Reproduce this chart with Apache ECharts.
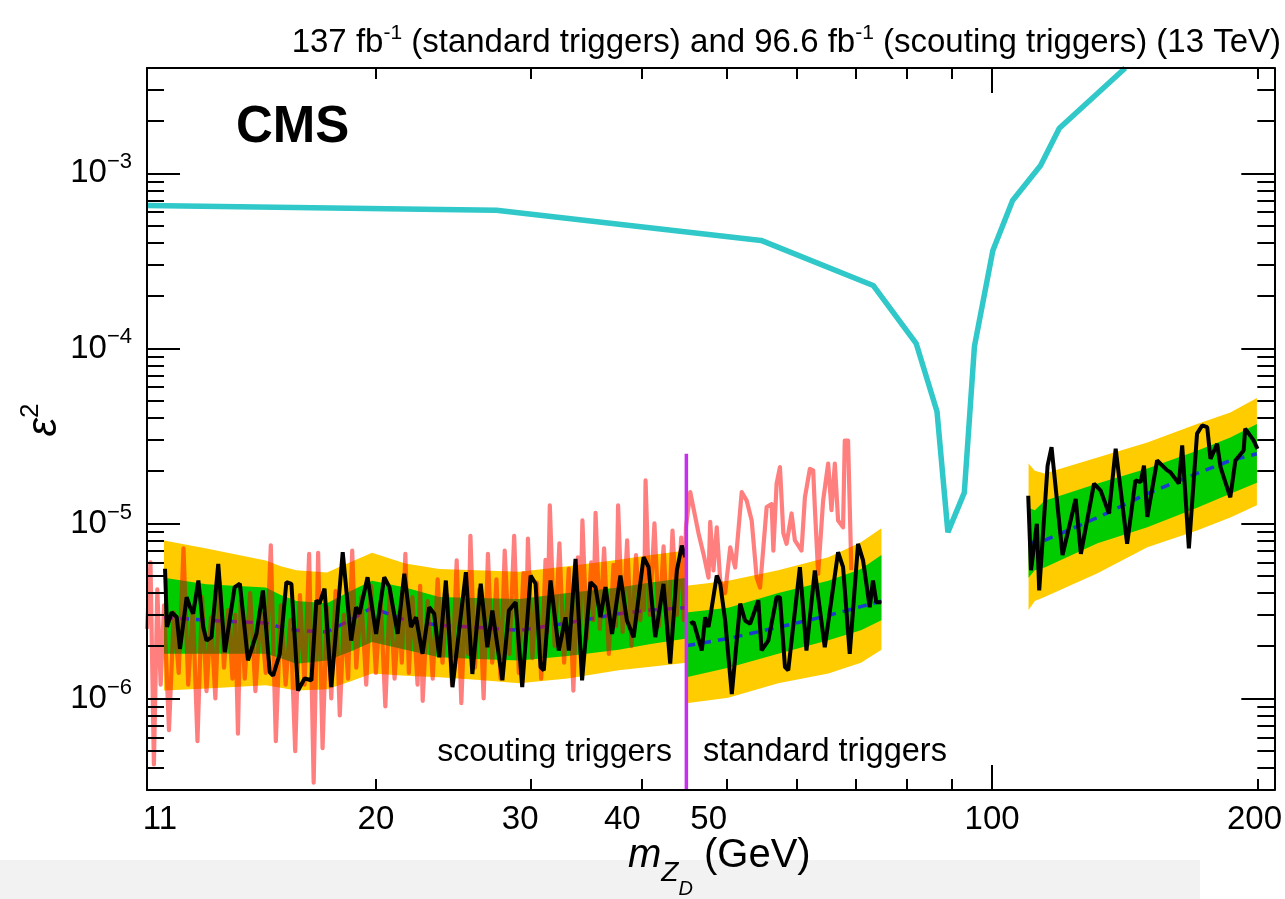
<!DOCTYPE html>
<html><head><meta charset="utf-8">
<script src="https://cdn.jsdelivr.net/npm/echarts@6/dist/echarts.min.js"></script>
<style>html,body{margin:0;padding:0;background:#fff}#chart{width:1285px;height:899px}</style>
</head><body><div id="chart"></div>
<script>
// ---------------- data ----------------
// eps^2 values of bands / observed lines are given in units of 1e-6
const UNIT = 1e-6;

// axes
const xMin = 11, xMax = 209;
const yMin = 3e-7, yMax = 4e-3;
const xTickLabels = [11, 20, 30, 40, 50, 100, 200];
const xMajorTicks = [100];
const xMinorTicks = [20, 30, 40, 50, 60, 70, 80, 90, 200];
const yMajorTicks = [1e-6, 1e-5, 1e-4, 1e-3];
const yMinorTicks = [4e-7, 5e-7, 6e-7, 7e-7, 8e-7, 9e-7,
  2e-6, 3e-6, 4e-6, 5e-6, 6e-6, 7e-6, 8e-6, 9e-6,
  2e-5, 3e-5, 4e-5, 5e-5, 6e-5, 7e-5, 8e-5, 9e-5,
  2e-4, 3e-4, 4e-4, 5e-4, 6e-4, 7e-4, 8e-4, 9e-4,
  2e-3, 3e-3];

// previous limits (cyan)
const prevMass = [11, 27.4, 54.7, 73.3, 82.0, 86.6, 89.1, 93.0, 95.5, 100.2, 105.5, 113.5, 119.2, 141.6];
const prevEps2 = [6.56e-4, 6.15e-4, 4.14e-4, 2.29e-4, 1.07e-4, 4.36e-5, 8.9e-6, 1.5e-5, 1.03e-4, 3.63e-4, 7.0e-4, 1.11e-3, 1.81e-3, 4.0e-3];

// scouting / standard boundary (magenta)
const boundaryMass = [45, 45];
const boundaryEps2 = [3e-7, 2.5e-5];

// scouting-trigger expected bands (11.5 - 45 GeV)
const scoutMass = [11.5, 12.85, 15.0, 15.6, 16.25, 17.6, 18.7, 19.8, 21.6, 23.6, 26.0, 29.1, 33.0, 37.7, 41.0, 45.0];
const scoutLo2  = [1.11, 1.14, 1.19, 1.15, 1.11, 1.13, 1.25, 1.39, 1.35, 1.32, 1.28, 1.22, 1.30, 1.45, 1.52, 1.60];
const scoutLo1  = [1.80, 1.80, 1.80, 1.70, 1.58, 1.65, 1.85, 2.10, 1.90, 1.72, 1.68, 1.65, 1.75, 1.90, 2.05, 2.20];
const scoutMed  = [2.90, 2.80, 2.70, 2.55, 2.45, 2.40, 2.80, 3.30, 2.80, 2.62, 2.55, 2.45, 2.70, 3.05, 3.20, 3.30];
const scoutHi1  = [4.9, 4.5, 4.3, 3.9, 3.6, 3.5, 4.1, 4.7, 4.3, 3.8, 3.75, 3.7, 4.0, 4.3, 4.6, 4.9];
const scoutHi2  = [8.0, 7.2, 6.15, 5.7, 5.4, 5.25, 6.0, 6.8, 5.9, 5.5, 5.4, 5.3, 5.7, 6.2, 6.6, 7.0];

// standard-trigger expected bands, low mass (45 - 75 GeV)
const stdLowMass = [45.0, 50.2, 57.2, 65.2, 71.0, 74.9];
const stdLowLo2  = [0.94, 1.01, 1.22, 1.39, 1.60, 1.90];
const stdLowLo1  = [1.32, 1.50, 1.80, 2.15, 2.45, 2.80];
const stdLowMed  = [2.00, 2.20, 2.55, 2.98, 3.35, 3.60];
const stdLowHi1  = [3.1, 3.3, 4.0, 4.7, 5.5, 6.6];
const stdLowHi2  = [4.4, 4.7, 5.4, 6.4, 7.8, 9.4];

// standard-trigger expected bands, high mass (110 - 200 GeV)
const stdHighMass = [110.0, 111.8, 114.7, 131.7, 150.0, 170.8, 186.3, 199.7];
const stdHighLo2  = [3.2, 3.6, 3.8, 5.2, 7.3, 9.1, 10.8, 12.7];
const stdHighLo1  = [4.9, 5.4, 5.6, 7.7, 9.5, 12.3, 14.8, 17.1];
const stdHighMed  = [7.7, 7.8, 8.0, 10.8, 14.8, 19.3, 22.9, 25.0];
const stdHighHi1  = [12.3, 11.9, 13.5, 16.9, 20.6, 26.0, 31.0, 37.0];
const stdHighHi2  = [22.0, 20.0, 19.3, 23.8, 29.0, 37.0, 43.0, 52.0];

// observed limit, scouting triggers [mass, eps2/1e-6]
const scoutObs = [[11.53,5.51],[11.59,2.56],[11.73,3.11],[11.89,2.91],[11.99,1.92],[12.20,3.79],[12.31,3.32],[12.41,3.05],[12.58,4.72],[12.74,2.56],[12.85,2.14],[13.02,2.24],[13.25,5.88],[13.48,1.84],[13.83,4.33],[14.02,4.52],[14.32,1.65],[14.64,2.34],[14.89,4.14],[15.16,1.41],[15.29,1.35],[15.56,1.80],[15.83,4.62],[16.04,4.52],[16.32,1.11],[16.60,1.30],[16.90,1.27],[17.12,3.63],[17.26,3.48],[17.49,4.24],[17.80,1.16],[18.34,6.85],[18.75,2.14],[18.99,3.32],[19.16,3.05],[19.57,4.93],[20.01,2.34],[20.44,4.93],[20.72,4.33],[21.17,2.34],[21.54,5.16],[21.92,2.56],[22.21,2.91],[22.59,1.80],[22.99,3.32],[23.29,3.05],[23.60,1.72],[24.01,4.72],[24.43,1.16],[25.30,5.27],[25.73,1.38],[26.30,4.52],[26.76,1.96],[27.11,3.18],[27.83,1.27],[28.31,3.18],[28.81,3.55],[29.31,1.16],[29.96,5.04],[30.35,4.52],[30.75,1.51],[31.01,1.45],[31.56,4.72],[32.25,1.88],[32.82,2.91],[33.11,1.88],[33.69,6.28],[34.27,1.27],[35.03,4.62],[35.49,4.33],[35.96,2.91],[36.43,4.33],[37.06,2.34],[37.88,5.04],[38.53,2.79],[39.21,2.24],[40.24,6.42],[40.77,5.63],[41.49,2.24],[42.39,4.52],[43.14,1.58],[43.90,5.39],[44.47,7.48],[44.87,6.42]];

// observed limit, standard triggers, low mass
const stdLowObs = [[45.46,2.67],[45.85,2.73],[46.85,1.88],[47.27,2.91],[47.68,2.56],[47.89,2.91],[48.72,5.04],[49.16,4.52],[49.80,2.79],[50.67,1.06],[51.79,3.48],[52.46,2.79],[53.15,2.67],[54.31,3.63],[54.77,1.88],[55.74,2.14],[56.96,3.79],[57.46,3.79],[58.22,1.51],[58.72,1.45],[60.53,5.63],[61.58,1.88],[62.94,5.39],[64.60,1.96],[66.88,6.85],[67.76,5.63],[68.95,1.80],[70.46,7.65],[71.39,6.15],[72.64,3.32],[73.27,4.72],[73.90,3.55],[74.87,3.55]];

// observed limit, standard triggers, high mass
const stdHighObs = [[109.9,14.4],[110.7,5.4],[112.4,9.95],[113.1,4.14],[115.6,21.4],[116.8,27.3],[120.2,6.6],[124.4,13.8],[126.1,6.7],[130.5,16.9],[132.8,15.4],[135.7,11.4],[138.1,26.7],[142.3,7.65],[145.4,17.6],[147.4,17.2],[148.7,21.4],[150.0,10.9],[153.9,22.9],[158.0,20.1],[159.3,19.6],[162.9,16.9],[164.3,27.9],[167.2,7.2],[170.8,32.6],[173.1,36.3],[175.4,35.5],[176.9,23.4],[180.0,28.5],[181.6,21.0],[184.7,16.1],[186.3,14.1],[188.8,22.9],[192.9,26.1],[193.7,34.8],[198.0,29.8],[200.0,26.7]];

// translucent red observed curve
const redObs = [[11.0,2.5],[11.1,6.0],[11.2,0.42],[11.3,4.2],[11.4,1.2],[11.5,3.4],[11.65,0.66],[11.8,3.1],[11.95,1.4],[12.1,7.2],[12.25,1.2],[12.4,3.3],[12.55,0.57],[12.7,3.8],[12.85,1.1],[13.0,2.9],[13.15,1.0],[13.3,4.6],[13.45,1.5],[13.6,3.2],[13.75,1.3],[13.85,3.0],[13.95,0.63],[14.05,3.6],[14.2,1.3],[14.4,4.0],[14.6,1.1],[14.8,3.1],[15.0,1.4],[15.2,7.5],[15.4,0.57],[15.6,3.4],[15.8,1.2],[16.0,2.8],[16.2,0.5],[16.4,3.9],[16.6,1.2],[16.8,6.7],[17.0,0.33],[17.2,6.8],[17.4,0.52],[17.6,3.3],[17.8,1.0],[18.0,4.1],[18.2,0.8],[18.4,3.0],[18.6,1.3],[18.8,7.0],[19.0,1.5],[19.25,3.8],[19.5,1.2],[19.75,4.4],[20.0,1.4],[20.25,3.6],[20.5,0.9],[20.75,4.2],[21.0,1.3],[21.25,3.1],[21.4,1.6],[21.6,6.7],[21.8,1.4],[22.0,3.8],[22.3,1.2],[22.45,4.4],[22.6,0.97],[22.9,3.6],[23.2,1.3],[23.5,4.8],[23.8,1.6],[24.1,3.9],[24.4,1.2],[24.7,6.15],[25.0,0.94],[25.3,4.6],[25.45,1.8],[25.6,8.5],[25.9,1.5],[26.2,4.2],[26.5,1.0],[26.8,6.7],[27.1,1.6],[27.4,4.8],[27.7,1.3],[28.0,7.0],[28.35,1.8],[28.7,8.5],[29.05,1.4],[29.4,5.2],[29.6,2.2],[29.75,8.2],[30.1,1.7],[30.45,4.6],[30.8,1.3],[31.15,6.2],[31.3,2.4],[31.5,12.7],[31.9,2.0],[32.3,7.7],[32.7,1.6],[33.1,5.5],[33.5,1.11],[33.9,6.4],[34.1,2.6],[34.3,10.4],[34.7,2.2],[35.1,6.0],[35.3,2.8],[35.5,11.5],[35.9,2.5],[36.3,7.2],[36.75,1.8],[37.2,5.8],[37.45,2.6],[37.65,12.7],[38.1,2.4],[38.55,8.0],[39.0,2.0],[39.45,6.6],[39.9,2.8],[40.15,5.0],[40.3,3.2],[40.45,17.6],[40.9,3.0],[41.4,10.0],[41.9,2.6],[42.4,7.4],[42.9,2.2],[43.4,9.1],[43.9,3.0],[44.4,8.3],[44.7,2.8],[44.95,9.5],
 [45.46,15.1],[46.45,8.8],[47.06,6.7],[47.68,4.9],[47.89,10.2],[48.30,5.4],[48.72,9.5],[49.16,4.7],[49.80,4.0],[50.46,7.3],[51.12,5.6],[52.0,15.1],[52.68,13.5],[53.37,10.4],[54.07,4.9],[54.55,4.3],[55.50,12.4],[56.23,12.9],[56.48,7.0],[56.96,16.9],[57.46,21.0],[57.97,8.8],[58.46,7.65],[59.23,11.4],[59.75,8.0],[60.79,7.0],[61.33,14.1],[62.13,20.5],[62.67,20.1],[62.94,12.4],[63.49,5.16],[64.32,13.5],[65.17,22.0],[65.74,11.9],[66.32,22.0],[66.88,10.4],[67.76,9.5],[68.06,29.7],[68.65,29.7],[69.24,5.4]];

// ---------------- chart ----------------
const FONT = '"Liberation Sans", Arial, Helvetica, sans-serif';
const BLACK = '#000';
const YELLOW = '#ffcc00', GREEN = '#00cc00', MEDIAN = '#1b3ad0', CYAN = '#30c8c8', MAGENTA = '#c62ff0';
const RED = 'rgba(255,0,0,0.5)';

function bandSeries(name, mass, lo, hi, color, z) {
  const rows = mass.map((m, i) => [m, lo[i] * UNIT, hi[i] * UNIT]);
  return {
    type: 'custom', name, z, clip: true, silent: true, xAxisIndex: 0, yAxisIndex: 0,
    data: rows, encode: { x: 0, y: [1, 2] },
    renderItem(params, api) {
      if (params.dataIndex !== 0) return null;
      const top = rows.map(r => api.coord([r[0], r[2]]));
      const bot = rows.slice().reverse().map(r => api.coord([r[0], r[1]]));
      return { type: 'polygon', shape: { points: top.concat(bot) }, style: { fill: color } };
    }
  };
}
function lineSeries(name, pts, color, width, z, extra) {
  return Object.assign({
    type: 'line', name, z, xAxisIndex: 0, yAxisIndex: 0, symbol: 'none', showSymbol: false,
    clip: true, silent: true, animation: false,
    data: pts,
    lineStyle: { color, width }
  }, extra || {});
}
const scaled = arr => arr.map(p => [p[0], p[1] * UNIT]);
const zipScaled = (m, v) => m.map((x, i) => [x, v[i] * UNIT]);
const zip = (m, v) => m.map((x, i) => [x, v[i]]);

const tickStyle = { color: BLACK, width: 2 };
function xAx(position, opts) {
  return Object.assign({
    type: 'log', logBase: 10, min: xMin, max: xMax, position, gridIndex: 0, z: 10,
    splitLine: { show: false }, axisLabel: { show: false }, axisTick: { show: false },
    axisLine: { show: false, onZero: false }
  }, opts);
}
function yAx(position, opts) {
  return Object.assign({
    type: 'log', logBase: 10, min: yMin, max: yMax, position, gridIndex: 0, z: 10,
    splitLine: { show: false }, axisLabel: { show: false }, axisTick: { show: false },
    axisLine: { show: false, onZero: false }
  }, opts);
}
const frameLine = { show: true, onZero: false, lineStyle: { color: BLACK, width: 2 } };

const yLabelFmt = v => {
  const e = Math.round(Math.log10(v));
  return '{b|10}{s|' + (e < 0 ? '\u2212' : '') + Math.abs(e) + '}';
};
// x labels: per-label horizontal nudge (as placed in the original figure)
const xLab = { fontSize: 33, fontFamily: FONT, color: BLACK };
const xLabelRich = {
  l11: Object.assign({ padding: [0, 0, 0, 26] }, xLab),
  l20: Object.assign({}, xLab),
  l30: Object.assign({ padding: [0, 22, 0, 0] }, xLab),
  l40: Object.assign({ padding: [0, 38, 0, 0] }, xLab),
  l50: Object.assign({ padding: [0, 36, 0, 0] }, xLab),
  l100: Object.assign({}, xLab),
  l200: Object.assign({ padding: [0, 6, 0, 0] }, xLab)
};

const option = {
  animation: false,
  backgroundColor: '#fff',
  grid: { left: 147, right: 8, top: 68, bottom: 109, containLabel: false },
  xAxis: [
    xAx('bottom', {
      axisLine: frameLine,
      axisTick: { show: true, inside: true, length: 25, customValues: xMajorTicks, lineStyle: tickStyle },
      axisLabel: { show: true, customValues: xTickLabels, margin: 13, color: BLACK, fontFamily: FONT,
        formatter: v => { const r = Math.round(v); return '{l' + r + '|' + r + '}'; },
        rich: xLabelRich }
    }),
    xAx('bottom', { axisTick: { show: true, inside: true, length: 11, customValues: xMinorTicks, lineStyle: tickStyle } }),
    xAx('top', {
      axisLine: frameLine,
      axisTick: { show: true, inside: true, length: 25, customValues: xMajorTicks, lineStyle: tickStyle }
    }),
    xAx('top', { axisTick: { show: true, inside: true, length: 11, customValues: xMinorTicks, lineStyle: tickStyle } })
  ],
  yAxis: [
    yAx('left', {
      axisLine: frameLine,
      axisTick: { show: true, inside: true, length: 33, customValues: yMajorTicks, lineStyle: tickStyle },
      axisLabel: { show: true, customValues: yMajorTicks, margin: 15, color: BLACK, fontFamily: FONT,
        formatter: yLabelFmt,
        rich: {
          b: { fontSize: 33, fontFamily: FONT, color: BLACK },
          s: { fontSize: 22, fontFamily: FONT, color: BLACK, padding: [0, 0, 22, 0] }
        } }
    }),
    yAx('left', { axisTick: { show: true, inside: true, length: 17, customValues: yMinorTicks, lineStyle: tickStyle } }),
    yAx('right', {
      axisLine: frameLine,
      axisTick: { show: true, inside: true, length: 33, customValues: yMajorTicks, lineStyle: tickStyle }
    }),
    yAx('right', { axisTick: { show: true, inside: true, length: 17, customValues: yMinorTicks, lineStyle: tickStyle } })
  ],
  series: [
    bandSeries('scout 2sigma', scoutMass, scoutLo2, scoutHi2, YELLOW, 1),
    bandSeries('scout 1sigma', scoutMass, scoutLo1, scoutHi1, GREEN, 2),
    bandSeries('std low 2sigma', stdLowMass, stdLowLo2, stdLowHi2, YELLOW, 1),
    bandSeries('std low 1sigma', stdLowMass, stdLowLo1, stdLowHi1, GREEN, 2),
    bandSeries('std high 2sigma', stdHighMass, stdHighLo2, stdHighHi2, YELLOW, 1),
    bandSeries('std high 1sigma', stdHighMass, stdHighLo1, stdHighHi1, GREEN, 2),
    lineSeries('scout median', zipScaled(scoutMass, scoutMed), MEDIAN, 3.5, 3, { lineStyle: { color: MEDIAN, width: 3.5, type: [9, 7] } }),
    lineSeries('std low median', zipScaled(stdLowMass, stdLowMed), MEDIAN, 3.5, 3, { lineStyle: { color: MEDIAN, width: 3.5, type: [9, 7] } }),
    lineSeries('std high median', zipScaled(stdHighMass, stdHighMed), MEDIAN, 3.5, 3, { lineStyle: { color: MEDIAN, width: 3.5, type: [9, 7] } }),
    lineSeries('red observed', scaled(redObs), RED, 4.2, 4, { lineStyle: { color: RED, width: 4.2, join: 'round' } }),
    lineSeries('scout observed', scaled(scoutObs), BLACK, 4, 5),
    lineSeries('std low observed', scaled(stdLowObs), BLACK, 4, 5),
    lineSeries('std high observed', scaled(stdHighObs), BLACK, 4, 5),
    lineSeries('previous limits', zip(prevMass, prevEps2), CYAN, 5.5, 6),
    lineSeries('boundary', zip(boundaryMass, boundaryEps2), MAGENTA, 3.5, 7)
  ],
  graphic: [
    { type: 'rect', z: 40, shape: { x: 0, y: 860, width: 1200, height: 39 }, style: { fill: '#f2f2f2' } },
    { type: 'text', x: 1281, y: 43, z: 50, style: {
        text: '{n|137 fb}{s|-1}{n| (standard triggers) and 96.6 fb}{s|-1}{n| (scouting triggers) (13 TeV)}',
        align: 'right', verticalAlign: 'middle',
        rich: { n: { fontSize: 33, fontFamily: FONT, fill: BLACK },
                s: { fontSize: 21, fontFamily: FONT, fill: BLACK, padding: [0, 0, 20, 0] } } } },
    { type: 'text', x: 236, y: 128, z: 50, style: { text: 'CMS', fontSize: 51, fontWeight: 'bold', fontFamily: FONT, fill: BLACK, align: 'left', verticalAlign: 'middle' } },
    { type: 'text', x: 672, y: 752, z: 50, style: { text: 'scouting triggers', fontSize: 32, fontFamily: FONT, fill: BLACK, align: 'right', verticalAlign: 'middle' } },
    { type: 'text', x: 703, y: 752, z: 50, style: { text: 'standard triggers', fontSize: 32.5, fontFamily: FONT, fill: BLACK, align: 'left', verticalAlign: 'middle' } },
    { type: 'text', x: 628, y: 856, z: 50, style: {
        text: '{m|m}{z|Z}{d|D}{n| (GeV)}', align: 'left', verticalAlign: 'middle',
        rich: { m: { fontSize: 40, fontStyle: 'italic', fontFamily: FONT, fill: BLACK },
                z: { fontSize: 28, fontStyle: 'italic', fontFamily: FONT, fill: BLACK, padding: [34, 0, 0, 0] },
                d: { fontSize: 20, fontStyle: 'italic', fontFamily: FONT, fill: BLACK, padding: [66, 0, 0, 0] },
                n: { fontSize: 40, fontFamily: FONT, fill: BLACK } } } },
    { type: 'text', x: 44, y: 420, rotation: Math.PI / 2, z: 50, style: {
        text: '{e|\u03b5}{s|2}', align: 'center', verticalAlign: 'middle',
        rich: { e: { fontSize: 42, fontStyle: 'italic', fontFamily: FONT, fill: BLACK },
                s: { fontSize: 26, fontFamily: FONT, fill: BLACK, padding: [0, 0, 26, 0] } } } }
  ]
};

const chart = echarts.init(document.getElementById('chart'), null, { renderer: 'canvas' });
chart.setOption(option);
</script>
</body></html>
